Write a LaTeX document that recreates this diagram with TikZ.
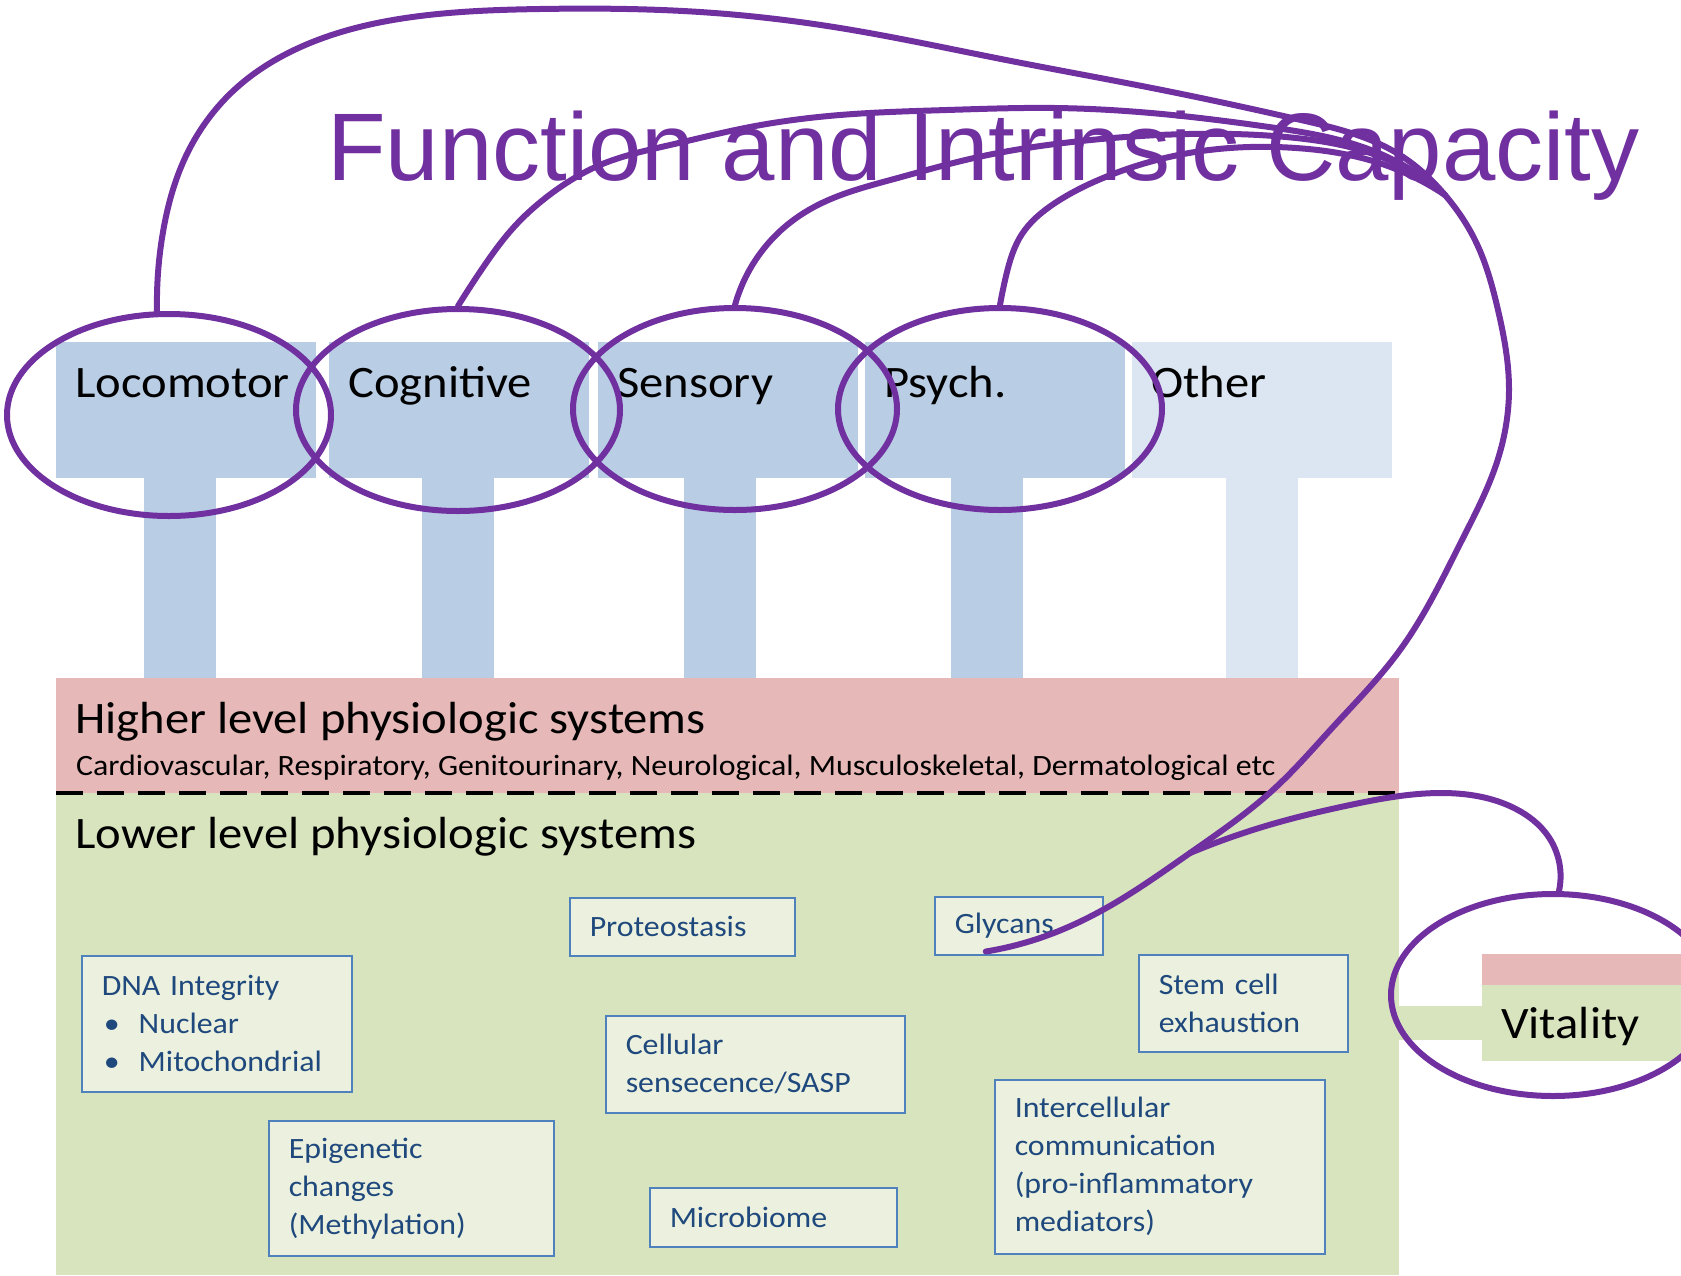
\documentclass[tikz,border=0pt]{standalone}
\usepackage{fontspec}
\setmainfont{Carlito}
\newfontfamily\widefont[FakeStretch=1.08]{Carlito}
\newfontfamily\titlefont{Liberation Sans}
\usetikzlibrary{shapes.geometric,
	hobby,
	positioning}

\definecolor{fnblue}{HTML}{B9CDE5}
\definecolor{fnpale}{HTML}{DCE6F2}
\definecolor{hipink}{HTML}{E6B9B8}
\definecolor{logreen}{HTML}{D7E4BD}
\definecolor{boxfill}{HTML}{EBF1DE}
\definecolor{boxline}{HTML}{4F81BD}
\definecolor{boxtext}{HTML}{1F497D}
\definecolor{ringpurple}{HTML}{7030A0}

\begin{document}
\begin{tikzpicture}[x=1pt,y=-1pt]
    \tikzstyle{biglabel}=[anchor=base west,inner sep=0pt,font=\widefont\fontsize{45}{54}\selectfont]
    \tikzstyle{ring}=[ellipse,draw=ringpurple,line width=6pt,minimum width=324pt,minimum height=202pt,inner sep=0pt]
    \tikzstyle{link}=[draw=ringpurple,line width=6pt,line cap=round,line join=round,use Hobby shortcut]
    \tikzset{hallmark/.style 2 args={draw=boxline,line width=1.5pt,fill=boxfill,text=boxtext,anchor=north west,
        align=left,inner xsep=20pt,inner ysep=0pt,text width=#1,minimum height=#2,font=\widefont\fontsize{29.5}{38}\selectfont}}
    \useasboundingbox (0,0) rectangle (1681,1275);
    \clip (0,0) rectangle (1681,1275);
    % function columns
    \foreach \bx/\sx/\col/\lab/\nm in {56/180/fnblue/Locomotor/loco, 329/458/fnblue/Cognitive/cog,
        598/720/fnblue/Sensory/sens, 865/987/fnblue/Psych./psych, 1132/1262/fnpale/Other/other}{
      \fill[\col] (\bx,342) rectangle ++(260,136);
      \fill[\col] (\sx-36,478) rectangle (\sx+36,678);
      \node[biglabel] (\nm) at (\bx+19,397) {\lab};
    }
    % physiologic systems
    \node[fill=hipink,anchor=north west,minimum width=1343pt,minimum height=115pt,inner sep=0pt] (higher) at (56,678) {};
    \node[fill=logreen,anchor=north west,minimum width=1343pt,minimum height=482pt,inner sep=0pt] (lower) at (56,793) {};
    \draw[black,line width=4pt,dash pattern=on 27pt off 14pt] (higher.south west) -- (higher.south east);
    \node[biglabel] (hightitle) at (75,733) {Higher level physiologic systems};
    \node[anchor=base west,inner sep=0pt,font=\widefont\fontsize{29.5}{34}\selectfont] (highlist) at (76,775)
      {Cardiovascular, Respiratory, Genitourinary, Neurological, Musculoskeletal, Dermatological etc};
    \node[biglabel] (lowtitle) at (75,848) {Lower level physiologic systems};
    % vitality
    \fill[logreen] (1399,1006) rectangle (1482,1040);
    \fill[hipink] (1482,954) rectangle (1681,985);
    \fill[logreen] (1482,985) rectangle (1681,1061);
    \node[biglabel] (vitality) at (1501,1038) {Vitality};
    % hallmarks
    \node[hallmark={185pt}{58pt}] (proteo) at (569,897) {Proteostasis};
    \node[hallmark={128pt}{58pt}] (glycans) at (934,896) {Glycans};
    \node[hallmark={230pt}{136pt}] (dna) at (81,955)
      {DNA Integrity\\\makebox[37pt][l]{\hspace*{2pt}\textbullet}Nuclear\\\makebox[37pt][l]{\hspace*{2pt}\textbullet}Mitochondrial};
    \node[hallmark={169pt}{97pt}] (stemcell) at (1138,954) {Stem cell\\exhaustion};
    \node[hallmark={259pt}{97pt}] (cellular) at (605,1015) {Cellular\\sensecence/SASP};
    \node[hallmark={245pt}{135pt}] (epigen) at (268,1120) {Epigenetic\\changes\\(Methylation)};
    \node[hallmark={290pt}{174pt}] (intercell) at (994,1079)
      {Intercellular\\communication\\(pro-inflammatory\\mediators)};
    \node[hallmark={207pt}{59pt}] (microbiome) at (649,1187) {Microbiome};
    % title
    \node[anchor=base west,inner sep=0pt,text=ringpurple,font=\titlefont\fontsize{96}{110}\selectfont] (title) at (327,180)
      {Function and Intrinsic Capacity};
    % rings
    \node[ring] (locoring) at (169,415) {};
    \node[ring] (cogring) at (458,410) {};
    \node[ring] (sensring) at (735,409) {};
    \node[ring] (psychring) at (1000,409) {};
    \node[ring] (vitring) at (1553,995) {};
    \coordinate (hub) at (1445,195);
    \coordinate (vitjoin) at (1190,853);
    % links
    \draw[link] ([xshift=-12pt]locoring.north) .. (163,232) .. (185,158) .. (232,92) .. (310,43) .. (420,16)
      .. (540,9) .. (700,12) .. (840,28) .. (1001,59) .. (1162,90) .. (1301,120) .. (1400,155) .. (hub)
      .. (1475,240) .. (1498,310) .. (1509,390) .. (1496,465) .. (1462,540) .. (1400,650) .. (1333,727)
      .. (1274,789) .. (vitjoin) .. (1108,907) .. (1040,938) .. ([xshift=-33pt,yshift=4pt]glycans.south);
    \draw[link] (cogring.north) .. (482,269) .. (514,227) .. (552,193) .. (600,165) .. (670,145) .. (750,127)
      .. (840,115) .. (947,110) .. (1055,108) .. (1162,114) .. (1269,127) .. (1376,152) .. (hub);
    \draw[link] (sensring.north) .. (750,269) .. (777,234) .. (814,207) .. (894,179) .. (974,158) .. (1081,141)
      .. (1189,134) .. (1296,138) .. (1376,155) .. (hub);
    \draw[link] (psychring.north) .. (1006,276) .. (1022,234) .. (1055,203) .. (1108,176) .. (1189,153)
      .. (1296,148) .. (1376,162) .. (hub);
    \draw[link] ([xshift=6pt]vitring.north) .. (1548,836) .. (1516,809) .. (1441,793) .. (1350,805)
      .. (1269,825) .. (vitjoin);
\end{tikzpicture}
\end{document}
